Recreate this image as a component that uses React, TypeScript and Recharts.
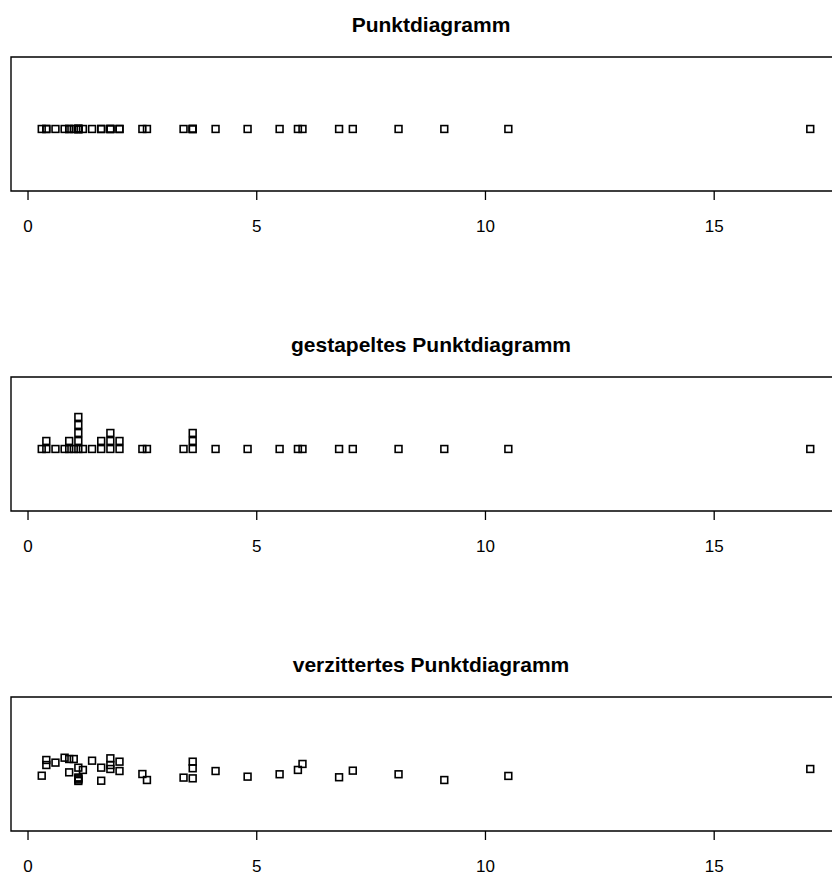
import { ScatterChart, Scatter, XAxis, YAxis, ReferenceArea } from "recharts";

// beobachtete Werte (sortiert)
const values = [
  0.3, 0.4, 0.4, 0.6, 0.8, 0.9, 0.9, 1.0, 1.1, 1.1, 1.1, 1.1, 1.1, 1.2, 1.4,
  1.6, 1.6, 1.8, 1.8, 1.8, 2.0, 2.0, 2.5, 2.6, 3.4, 3.6, 3.6, 3.6, 4.1, 4.8,
  5.5, 5.9, 6.0, 6.8, 7.1, 8.1, 9.1, 10.5, 17.1,
];

// vertikale Verzitterung je Punkt
const jitter = [
  -0.056, 0.075, 0.033, 0.053, 0.094, 0.083, -0.028, 0.083, 0.011, -0.071,
  -0.079, -0.088, -0.1, -0.008, 0.069, 0.011, -0.098, 0.089, 0.033, 0, 0.061,
  -0.017, -0.042, -0.092, -0.072, 0.061, 0.006, -0.078, -0.017, -0.064,
  -0.044, -0.008, 0.042, -0.069, -0.014, -0.044, -0.092, -0.058, 0,
];

const titles = [
  "Punktdiagramm",
  "gestapeltes Punktdiagramm",
  "verzittertes Punktdiagramm",
];

const xTicks = [0, 5, 10, 15];

const X_DOMAIN: [number, number] = [-0.372, 17.772];
const Y_DOMAIN: [number, number] = [0.483, 1.6];
const STACK_STEP = 0.0667;

const overlapData = values.map((v) => ({ x: v, y: 1 }));

const stackData = (() => {
  const seen: Record<string, number> = {};
  return values.map((v) => {
    const k = String(v);
    const level = seen[k] ?? 0;
    seen[k] = level + 1;
    return { x: v, y: 1 + level * STACK_STEP };
  });
})();

const jitterData = values.map((v, i) => ({ x: v, y: 1 + jitter[i] }));

const panels = [overlapData, stackData, jitterData];

const FONT = "'Liberation Sans', Arial, Helvetica, sans-serif";
const PANEL_H = 320;

const Square = (props: any) => {
  const { cx, cy } = props;
  if (cx == null || cy == null) return null;
  const s = 6.8;
  return (
    <rect
      x={cx - s / 2}
      y={cy - s / 2}
      width={s}
      height={s}
      fill="none"
      stroke="#000"
      strokeWidth={1.6}
    />
  );
};

const Panel = ({ data, title, top }: { data: any[]; title: string; top: number }) => (
  <div style={{ position: "absolute", left: 0, top, width: 841, height: PANEL_H }}>
    <div
      style={{
        position: "absolute",
        left: 16,
        width: 830,
        top: 12,
        textAlign: "center",
        fontWeight: "bold",
        fontSize: 21,
        lineHeight: "26px",
        color: "#000",
      }}
    >
      {title}
    </div>
    <ScatterChart
      width={841}
      height={PANEL_H}
      margin={{ top: 57, left: 11, right: 0, bottom: 94 }}
    >
      <XAxis
        type="number"
        dataKey="x"
        domain={X_DOMAIN}
        ticks={xTicks}
        allowDataOverflow
        axisLine={false}
        tickLine={{ stroke: "#000", strokeWidth: 1.3 }}
        tickSize={9}
        tickMargin={20}
        height={35}
        tick={{ fill: "#000", fontSize: 17, fontFamily: FONT }}
      />
      <YAxis type="number" dataKey="y" domain={Y_DOMAIN} hide allowDataOverflow />
      <ReferenceArea
        x1={X_DOMAIN[0]}
        x2={X_DOMAIN[1]}
        y1={Y_DOMAIN[0]}
        y2={Y_DOMAIN[1]}
        fill="none"
        fillOpacity={0}
        stroke="#000"
        strokeWidth={1.4}
        ifOverflow="visible"
      />
      <Scatter data={data} shape={<Square />} isAnimationActive={false} />
    </ScatterChart>
  </div>
);

export default function App() {
  return (
    <div
      style={{
        position: "absolute",
        left: 0,
        top: 0,
        width: 832,
        height: 875,
        overflow: "hidden",
        background: "#fff",
        fontFamily: FONT,
      }}
    >
      {panels.map((d, i) => (
        <Panel key={i} data={d} title={titles[i]} top={i * PANEL_H} />
      ))}
    </div>
  );
}
